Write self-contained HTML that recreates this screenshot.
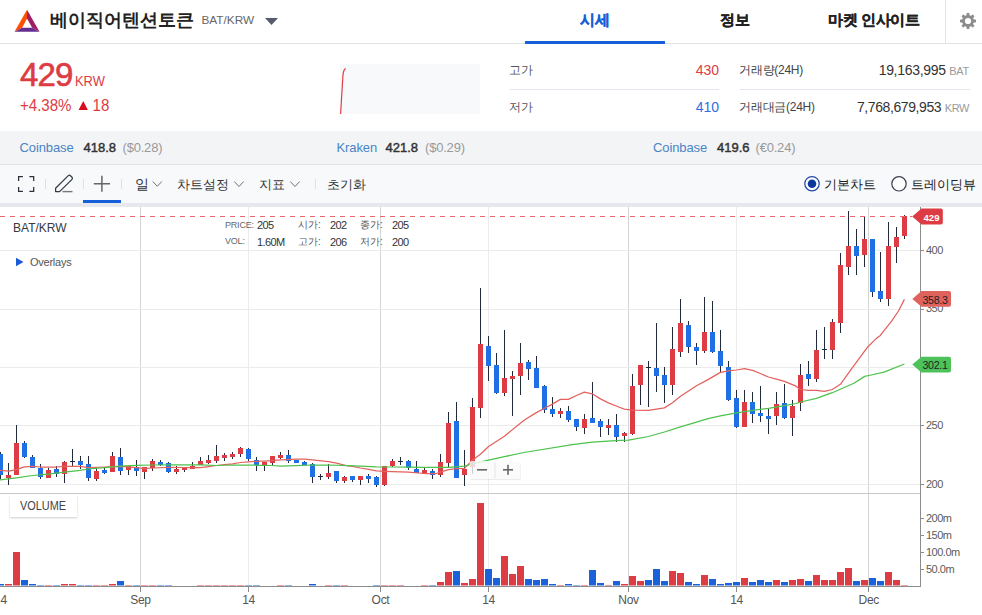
<!DOCTYPE html>
<html><head><meta charset="utf-8">
<style>
*{margin:0;padding:0;box-sizing:border-box}
html,body{width:982px;height:615px;overflow:hidden;background:#fff}
body{font-family:"Liberation Sans",sans-serif;position:relative;color:#333}
.a{position:absolute;white-space:nowrap;line-height:1}
.red{color:#dd3c44}.blue{color:#2f6ee0}
</style></head><body>
<!-- header -->
<svg class="a" style="left:0;top:0" width="982" height="44">
  <polygon points="27,9.8 14.5,31.7 22.2,27.7 27,18.6" fill="#ff5000"/>
  <polygon points="27,9.8 27,18.6 32.2,27.7 39.5,31.7" fill="#9e1f63"/>
  <polygon points="14.5,31.7 39.5,31.7 32.2,27.7 22.2,27.7" fill="#662d91"/>
  <polygon points="265,18 278,18 271.5,25" fill="#555b69"/>
  <rect x="945" y="0" width="1" height="43" fill="#e3e5ec"/>
  <rect x="0" y="43" width="982" height="1" fill="#e2e2e2"/>
  <rect x="525" y="41" width="140" height="3" fill="#1560d8"/>
  <g transform="translate(968,21)" fill="#8c8c8c">
    <circle r="6"/>
    <g><rect x="-1.4" y="-8" width="2.8" height="16" rx="0.6"/><rect x="-1.4" y="-8" width="2.8" height="16" rx="0.6" transform="rotate(45)"/><rect x="-1.4" y="-8" width="2.8" height="16" rx="0.6" transform="rotate(90)"/><rect x="-1.4" y="-8" width="2.8" height="16" rx="0.6" transform="rotate(135)"/></g>
    <circle r="3.1" fill="#fff"/>
  </g>
</svg>
<div class="a" style="left:50px;top:10.7px;font-size:18.3px;font-weight:bold;color:#222">베이직어텐션토큰</div>
<div class="a" style="left:201.5px;top:14.5px;font-size:11.8px;color:#666">BAT/KRW</div>
<div class="a" style="left:579.5px;top:12.3px;font-size:15.4px;font-weight:bold;-webkit-text-stroke:0.3px #1560d8;color:#1560d8">시세</div>
<div class="a" style="left:719.5px;top:12.3px;font-size:15.2px;font-weight:bold;-webkit-text-stroke:0.3px #222;color:#222">정보</div>
<div class="a" style="left:828px;top:12.3px;font-size:15.2px;letter-spacing:-0.4px;font-weight:bold;-webkit-text-stroke:0.3px #222;color:#222">마켓 인사이트</div>

<!-- price -->
<div class="a red" style="left:20px;top:58px;font-size:33px;letter-spacing:-0.9px;-webkit-text-stroke:0.6px #dd3c44">429</div>
<div class="a red" style="left:75.3px;top:74.2px;font-size:14px;transform:scaleX(0.92);transform-origin:0 0">KRW</div>
<div class="a red" style="left:19.5px;top:97px;font-size:16.2px;transform:scaleX(0.93);transform-origin:0 0">+4.38% <span style="display:inline-block;width:0;height:0;border-left:5.5px solid transparent;border-right:5.5px solid transparent;border-bottom:9.3px solid #dc0a1e;margin:0 5.1px 0 3.1px;vertical-align:1px"></span>18</div>
<div class="a" style="left:340px;top:64px;width:140px;height:50px;background:#f8f9fb"></div>
<svg class="a" style="left:0;top:0" width="982" height="130"><path d="M340.6,114 L342.9,76 Q343.4,69.2 345.8,68.6" fill="none" stroke="#e03c48" stroke-width="1.2"/>
<rect x="510" y="89" width="209" height="1" fill="#e3e5ef"/><rect x="740" y="89" width="230" height="1" fill="#e3e5ef"/></svg>
<div class="a" style="left:509px;top:64px;font-size:12px;color:#555">고가</div>
<div class="a red" style="left:600px;top:62.7px;width:119px;text-align:right;font-size:14px">430</div>
<div class="a" style="left:509px;top:101px;font-size:12px;color:#555">저가</div>
<div class="a blue" style="left:600px;top:99.7px;width:119px;text-align:right;font-size:14px">410</div>
<div class="a" style="left:739px;top:64px;font-size:12px;letter-spacing:-0.25px;color:#444">거래량(24H)</div>
<div class="a" style="left:800px;top:63px;width:169px;text-align:right;font-size:14px;letter-spacing:-0.3px;color:#333">19,163,995 <span style="font-size:11px;color:#9a9a9a">BAT</span></div>
<div class="a" style="left:739px;top:101px;font-size:12px;letter-spacing:-0.25px;color:#444">거래대금(24H)</div>
<div class="a" style="left:800px;top:100px;width:169px;text-align:right;font-size:14px;letter-spacing:-0.4px;color:#333">7,768,679,953 <span style="font-size:11px;color:#9a9a9a">KRW</span></div>

<!-- exchange bar -->
<div class="a" style="left:0;top:131px;width:982px;height:34px;background:#f3f4f6;border-bottom:1px solid #dfe0e4"></div>
<div class="a" style="left:19.5px;top:141px;font-size:13px;letter-spacing:-0.1px;color:#4a85c5">Coinbase</div>
<div class="a" style="left:83.5px;top:141px;font-size:13px;-webkit-text-stroke:0.45px #333;color:#333">418.8</div>
<div class="a" style="left:122.5px;top:141px;font-size:13px;letter-spacing:-0.2px;color:#999">($0.28)</div>
<div class="a" style="left:336.5px;top:141px;font-size:13px;letter-spacing:-0.1px;color:#4a85c5">Kraken</div>
<div class="a" style="left:385.5px;top:141px;font-size:13px;-webkit-text-stroke:0.45px #333;color:#333">421.8</div>
<div class="a" style="left:425px;top:141px;font-size:13px;letter-spacing:-0.2px;color:#999">($0.29)</div>
<div class="a" style="left:653px;top:141px;font-size:13px;letter-spacing:-0.1px;color:#4a85c5">Coinbase</div>
<div class="a" style="left:717px;top:141px;font-size:13px;-webkit-text-stroke:0.45px #333;color:#333">419.6</div>
<div class="a" style="left:755.5px;top:141px;font-size:13px;letter-spacing:-0.2px;color:#999">(€0.24)</div>

<!-- toolbar -->
<div class="a" style="left:0;top:165px;width:982px;height:38px;background:#f8f9fb"></div>
<div class="a" style="left:0;top:203px;width:982px;height:4px;background:#e6e8ee"></div>
<svg class="a" style="left:0;top:160px" width="982" height="47">
  <g fill="none" stroke="#2a2f3a" stroke-width="1.25">
    <path d="M18.6 21v-4.3h4.3M29.4 16.7h4.3V21M33.7 27v4.3h-4.3M22.9 31.3h-4.3V27"/>
  </g>
  <path d="M55.6,31.6 L55.6,28.2 L68.3,15.6 Q69.4,14.6 70.5,15.7 L72,17.3 Q73,18.4 72,19.4 L59.6,31.6 Z" fill="none" stroke="#353a45" stroke-width="1.25" stroke-linejoin="round"/>
  <path d="M62.5 31.6h10" stroke="#777" stroke-width="1.4"/>
  <path d="M101.9 15.8v16M93.8 23.8h16.2" stroke="#666" stroke-width="1.5" fill="none"/>
  <rect x="83" y="40" width="38" height="3" fill="#1560d8"/>
  <g fill="#dcdfe5"><rect x="45" y="19" width="1" height="10"/><rect x="83" y="19" width="1" height="10"/><rect x="121" y="19" width="1" height="10"/><rect x="315" y="19" width="1" height="10"/></g>
  <g fill="none" stroke="#707070" stroke-width="1">
    <path d="M152.8 21.5l4.5 4.8 4.5-4.8"/><path d="M234.3 21.5l4.7 5 4.7-5"/><path d="M290.3 21.5l4.7 5 4.7-5"/>
  </g>
  <circle cx="812" cy="23.7" r="7.2" fill="#fff" stroke="#2448a8" stroke-width="1.25"/>
  <circle cx="812" cy="23.7" r="4.3" fill="#0b3a9c"/>
  <circle cx="899" cy="23.8" r="7.2" fill="#fff" stroke="#3a3f4a" stroke-width="1.2"/>
</svg>
<div class="a" style="left:135px;top:178px;font-size:13.5px;color:#333">일</div>
<div class="a" style="left:177px;top:178px;font-size:13.2px;color:#333">차트설정</div>
<div class="a" style="left:259px;top:178px;font-size:13px;color:#333">지표</div>
<div class="a" style="left:327px;top:178px;font-size:13px;color:#333">초기화</div>
<div class="a" style="left:824px;top:177.5px;font-size:13px;color:#222">기본차트</div>
<div class="a" style="left:911px;top:177.5px;font-size:13px;color:#222">트레이딩뷰</div>

<!-- chart -->
<svg class="a" style="left:0;top:0" width="982" height="615" shape-rendering="crispEdges">
<line x1="140.5" y1="207" x2="140.5" y2="586" stroke="#d5d5d5" stroke-width="1"/>
<line x1="380.5" y1="207" x2="380.5" y2="586" stroke="#d5d5d5" stroke-width="1"/>
<line x1="628.5" y1="207" x2="628.5" y2="586" stroke="#d5d5d5" stroke-width="1"/>
<line x1="868.5" y1="207" x2="868.5" y2="586" stroke="#d5d5d5" stroke-width="1"/>
<line x1="248.5" y1="207" x2="248.5" y2="586" stroke="#ececec" stroke-width="1"/>
<line x1="488.5" y1="207" x2="488.5" y2="586" stroke="#ececec" stroke-width="1"/>
<line x1="736.5" y1="207" x2="736.5" y2="586" stroke="#ececec" stroke-width="1"/>
<line x1="0" y1="250.5" x2="920" y2="250.5" stroke="#ebebeb" stroke-width="1"/>
<line x1="0" y1="309.5" x2="920" y2="309.5" stroke="#ebebeb" stroke-width="1"/>
<line x1="0" y1="367.5" x2="920" y2="367.5" stroke="#ebebeb" stroke-width="1"/>
<line x1="0" y1="425.5" x2="920" y2="425.5" stroke="#ebebeb" stroke-width="1"/>
<line x1="0" y1="484.5" x2="920" y2="484.5" stroke="#ebebeb" stroke-width="1"/>
<rect x="0" y="452" width="1" height="27" fill="#202a3a"/>
<rect x="-2" y="454" width="5" height="21" fill="#1f6fe5"/>
<rect x="8" y="462.5" width="1" height="22.1" fill="#202a3a"/>
<rect x="6" y="475" width="5" height="3" fill="#dd3c44"/>
<rect x="16" y="425.4" width="1" height="49.6" fill="#202a3a"/>
<rect x="14" y="443" width="5" height="32" fill="#dd3c44"/>
<rect x="24" y="441" width="1" height="17" fill="#202a3a"/>
<rect x="22" y="443" width="5" height="14" fill="#1f6fe5"/>
<rect x="32" y="455.3" width="1" height="12.4" fill="#202a3a"/>
<rect x="30" y="457" width="5" height="10.7" fill="#1f6fe5"/>
<rect x="40" y="464" width="1" height="14.7" fill="#202a3a"/>
<rect x="38" y="467.7" width="5" height="9.1" fill="#1f6fe5"/>
<rect x="48" y="468.3" width="1" height="9.5" fill="#202a3a"/>
<rect x="46" y="470" width="5" height="7.8" fill="#dd3c44"/>
<rect x="56" y="466.4" width="1" height="10.4" fill="#202a3a"/>
<rect x="54" y="469" width="5" height="4.5" fill="#1f6fe5"/>
<rect x="64" y="461" width="1" height="22.3" fill="#202a3a"/>
<rect x="62" y="462" width="5" height="11.8" fill="#dd3c44"/>
<rect x="72" y="448.5" width="1" height="17.2" fill="#202a3a"/>
<rect x="70" y="460.7" width="5" height="1" fill="#202a3a"/>
<rect x="80" y="456.4" width="1" height="12.6" fill="#202a3a"/>
<rect x="78" y="460.8" width="5" height="4" fill="#1f6fe5"/>
<rect x="88" y="456.4" width="1" height="24.3" fill="#202a3a"/>
<rect x="86" y="463.9" width="5" height="13.9" fill="#1f6fe5"/>
<rect x="96" y="468.3" width="1" height="12.4" fill="#202a3a"/>
<rect x="94" y="470.9" width="5" height="8.1" fill="#dd3c44"/>
<rect x="104" y="467.7" width="1" height="5.8" fill="#202a3a"/>
<rect x="102" y="470" width="5" height="2.9" fill="#1f6fe5"/>
<rect x="112" y="452" width="1" height="19.8" fill="#202a3a"/>
<rect x="110" y="456" width="5" height="15.8" fill="#dd3c44"/>
<rect x="120" y="448.2" width="1" height="26.4" fill="#202a3a"/>
<rect x="118" y="456.9" width="5" height="14" fill="#1f6fe5"/>
<rect x="128" y="466.4" width="1" height="8.2" fill="#202a3a"/>
<rect x="126" y="466.4" width="5" height="3.5" fill="#dd3c44"/>
<rect x="136" y="459.9" width="1" height="16.5" fill="#202a3a"/>
<rect x="134" y="467" width="5" height="3.9" fill="#1f6fe5"/>
<rect x="144" y="467" width="1" height="11.7" fill="#202a3a"/>
<rect x="142" y="467" width="5" height="4.8" fill="#dd3c44"/>
<rect x="152" y="459.2" width="1" height="11.5" fill="#202a3a"/>
<rect x="150" y="460.8" width="5" height="7.5" fill="#dd3c44"/>
<rect x="160" y="459.9" width="1" height="6.5" fill="#202a3a"/>
<rect x="158" y="462" width="5" height="2.8" fill="#1f6fe5"/>
<rect x="168" y="461.8" width="1" height="11.1" fill="#202a3a"/>
<rect x="166" y="463.1" width="5" height="8.7" fill="#1f6fe5"/>
<rect x="176" y="466.4" width="1" height="7.1" fill="#202a3a"/>
<rect x="174" y="469" width="5" height="2.8" fill="#dd3c44"/>
<rect x="184" y="467.4" width="1" height="4.2" fill="#202a3a"/>
<rect x="182" y="467.4" width="5" height="2.2" fill="#dd3c44"/>
<rect x="192" y="462" width="1" height="6.6" fill="#202a3a"/>
<rect x="190" y="466.1" width="5" height="2.5" fill="#dd3c44"/>
<rect x="200" y="456.9" width="1" height="8.1" fill="#202a3a"/>
<rect x="198" y="461.2" width="5" height="3.5" fill="#dd3c44"/>
<rect x="208" y="455" width="1" height="9.4" fill="#202a3a"/>
<rect x="206" y="459.9" width="5" height="2.8" fill="#dd3c44"/>
<rect x="216" y="445.3" width="1" height="17.2" fill="#202a3a"/>
<rect x="214" y="456" width="5" height="4.8" fill="#dd3c44"/>
<rect x="224" y="453.4" width="1" height="7.1" fill="#202a3a"/>
<rect x="222" y="455" width="5" height="2.7" fill="#dd3c44"/>
<rect x="232" y="452" width="1" height="6.6" fill="#202a3a"/>
<rect x="230" y="453.8" width="5" height="2.8" fill="#dd3c44"/>
<rect x="240" y="446.9" width="1" height="9.7" fill="#202a3a"/>
<rect x="238" y="448.2" width="5" height="5.6" fill="#dd3c44"/>
<rect x="248" y="448.2" width="1" height="12.3" fill="#202a3a"/>
<rect x="246" y="449" width="5" height="9.8" fill="#1f6fe5"/>
<rect x="256" y="457.3" width="1" height="13.4" fill="#202a3a"/>
<rect x="254" y="459.9" width="5" height="4.9" fill="#1f6fe5"/>
<rect x="264" y="461.8" width="1" height="8.9" fill="#202a3a"/>
<rect x="262" y="461.8" width="5" height="3.2" fill="#dd3c44"/>
<rect x="272" y="456" width="1" height="10" fill="#202a3a"/>
<rect x="270" y="456" width="5" height="6.9" fill="#dd3c44"/>
<rect x="280" y="452" width="1" height="6.6" fill="#202a3a"/>
<rect x="278" y="455" width="5" height="2.9" fill="#dd3c44"/>
<rect x="288" y="450.1" width="1" height="12.4" fill="#202a3a"/>
<rect x="286" y="455" width="5" height="5.5" fill="#1f6fe5"/>
<rect x="296" y="459.9" width="1" height="3.5" fill="#202a3a"/>
<rect x="294" y="459.9" width="5" height="3" fill="#1f6fe5"/>
<rect x="304" y="460.8" width="1" height="4" fill="#202a3a"/>
<rect x="302" y="462" width="5" height="2.8" fill="#1f6fe5"/>
<rect x="312" y="463.1" width="1" height="20.2" fill="#202a3a"/>
<rect x="310" y="464" width="5" height="12.8" fill="#1f6fe5"/>
<rect x="320" y="474.2" width="1" height="5.8" fill="#202a3a"/>
<rect x="318" y="475.6" width="5" height="1" fill="#202a3a"/>
<rect x="328" y="464.2" width="1" height="14.5" fill="#202a3a"/>
<rect x="326" y="473.1" width="5" height="3.7" fill="#dd3c44"/>
<rect x="336" y="470.9" width="1" height="12.4" fill="#202a3a"/>
<rect x="334" y="470.9" width="5" height="9.8" fill="#1f6fe5"/>
<rect x="344" y="475.9" width="1" height="7.4" fill="#202a3a"/>
<rect x="342" y="477" width="5" height="3.7" fill="#dd3c44"/>
<rect x="352" y="476.1" width="1" height="5.5" fill="#202a3a"/>
<rect x="350" y="476.1" width="5" height="3.5" fill="#1f6fe5"/>
<rect x="360" y="476.1" width="1" height="9.1" fill="#202a3a"/>
<rect x="358" y="476.1" width="5" height="3.5" fill="#dd3c44"/>
<rect x="368" y="474.2" width="1" height="9.1" fill="#202a3a"/>
<rect x="366" y="475.9" width="5" height="2.8" fill="#1f6fe5"/>
<rect x="376" y="476.1" width="1" height="11.1" fill="#202a3a"/>
<rect x="374" y="477" width="5" height="7.8" fill="#1f6fe5"/>
<rect x="384" y="466.4" width="1" height="19.5" fill="#202a3a"/>
<rect x="382" y="466.4" width="5" height="18.4" fill="#dd3c44"/>
<rect x="392" y="459.2" width="1" height="7.8" fill="#202a3a"/>
<rect x="390" y="461.2" width="5" height="4.8" fill="#dd3c44"/>
<rect x="400" y="457.3" width="1" height="7.7" fill="#202a3a"/>
<rect x="398" y="460.9" width="5" height="1" fill="#202a3a"/>
<rect x="408" y="459.9" width="1" height="9.7" fill="#202a3a"/>
<rect x="406" y="460.8" width="5" height="6.9" fill="#1f6fe5"/>
<rect x="416" y="461.2" width="1" height="11.7" fill="#202a3a"/>
<rect x="414" y="469" width="5" height="3.9" fill="#1f6fe5"/>
<rect x="424" y="467.7" width="1" height="5.8" fill="#202a3a"/>
<rect x="422" y="470.3" width="5" height="3.2" fill="#dd3c44"/>
<rect x="432" y="469.4" width="1" height="9.1" fill="#202a3a"/>
<rect x="430" y="470.9" width="5" height="3.9" fill="#1f6fe5"/>
<rect x="440" y="454.2" width="1" height="23" fill="#202a3a"/>
<rect x="438" y="462.2" width="5" height="12.5" fill="#dd3c44"/>
<rect x="448" y="411.5" width="1" height="55.5" fill="#202a3a"/>
<rect x="446" y="422.9" width="5" height="39.8" fill="#dd3c44"/>
<rect x="456" y="402" width="1" height="75.8" fill="#202a3a"/>
<rect x="454" y="420.9" width="5" height="56.9" fill="#1f6fe5"/>
<rect x="464" y="449.9" width="1" height="35.9" fill="#202a3a"/>
<rect x="462" y="468.7" width="5" height="6" fill="#dd3c44"/>
<rect x="472" y="398.3" width="1" height="75.7" fill="#202a3a"/>
<rect x="470" y="406.9" width="5" height="60.1" fill="#dd3c44"/>
<rect x="480" y="287.5" width="1" height="130" fill="#202a3a"/>
<rect x="478" y="343.8" width="5" height="63.7" fill="#dd3c44"/>
<rect x="488" y="335.5" width="1" height="45.9" fill="#202a3a"/>
<rect x="486" y="345.9" width="5" height="20.1" fill="#1f6fe5"/>
<rect x="496" y="353.3" width="1" height="40.5" fill="#202a3a"/>
<rect x="494" y="364.9" width="5" height="28.1" fill="#1f6fe5"/>
<rect x="504" y="329.6" width="1" height="66.8" fill="#202a3a"/>
<rect x="502" y="378" width="5" height="15" fill="#dd3c44"/>
<rect x="512" y="371.4" width="1" height="44.8" fill="#202a3a"/>
<rect x="510" y="376" width="5" height="2.8" fill="#dd3c44"/>
<rect x="520" y="342.5" width="1" height="52.1" fill="#202a3a"/>
<rect x="518" y="362.9" width="5" height="12.8" fill="#dd3c44"/>
<rect x="528" y="360.2" width="1" height="20.1" fill="#202a3a"/>
<rect x="526" y="362.1" width="5" height="6.6" fill="#1f6fe5"/>
<rect x="536" y="356.4" width="1" height="32" fill="#202a3a"/>
<rect x="534" y="368" width="5" height="20" fill="#1f6fe5"/>
<rect x="544" y="385.3" width="1" height="28.1" fill="#202a3a"/>
<rect x="542" y="386" width="5" height="23.7" fill="#1f6fe5"/>
<rect x="552" y="397.2" width="1" height="19.3" fill="#202a3a"/>
<rect x="550" y="409.2" width="5" height="4.6" fill="#1f6fe5"/>
<rect x="560" y="407.5" width="1" height="10.2" fill="#202a3a"/>
<rect x="558" y="411.2" width="5" height="2.6" fill="#dd3c44"/>
<rect x="568" y="406.3" width="1" height="15.4" fill="#202a3a"/>
<rect x="566" y="410.9" width="5" height="8.9" fill="#1f6fe5"/>
<rect x="576" y="419.1" width="1" height="11.4" fill="#202a3a"/>
<rect x="574" y="419.1" width="5" height="7.5" fill="#1f6fe5"/>
<rect x="584" y="413.5" width="1" height="20.8" fill="#202a3a"/>
<rect x="582" y="419.1" width="5" height="8.9" fill="#dd3c44"/>
<rect x="592" y="382.4" width="1" height="40.4" fill="#202a3a"/>
<rect x="590" y="418.2" width="5" height="4.6" fill="#1f6fe5"/>
<rect x="600" y="419.4" width="1" height="17.1" fill="#202a3a"/>
<rect x="598" y="421.1" width="5" height="5.5" fill="#1f6fe5"/>
<rect x="608" y="419.4" width="1" height="15.9" fill="#202a3a"/>
<rect x="606" y="425" width="5" height="3" fill="#dd3c44"/>
<rect x="616" y="413.5" width="1" height="28.9" fill="#202a3a"/>
<rect x="614" y="425" width="5" height="11.5" fill="#1f6fe5"/>
<rect x="624" y="432" width="1" height="10.4" fill="#202a3a"/>
<rect x="622" y="432.9" width="5" height="3" fill="#dd3c44"/>
<rect x="632" y="374.1" width="1" height="60.5" fill="#202a3a"/>
<rect x="630" y="385.8" width="5" height="48.1" fill="#dd3c44"/>
<rect x="640" y="364.8" width="1" height="40.5" fill="#202a3a"/>
<rect x="638" y="364.8" width="5" height="20" fill="#dd3c44"/>
<rect x="648" y="361" width="1" height="45.6" fill="#202a3a"/>
<rect x="646" y="366.9" width="5" height="1" fill="#202a3a"/>
<rect x="656" y="323.3" width="1" height="68.4" fill="#202a3a"/>
<rect x="654" y="367.9" width="5" height="7.8" fill="#1f6fe5"/>
<rect x="664" y="367.2" width="1" height="35.5" fill="#202a3a"/>
<rect x="662" y="375" width="5" height="9.8" fill="#1f6fe5"/>
<rect x="672" y="327.1" width="1" height="67.6" fill="#202a3a"/>
<rect x="670" y="348.8" width="5" height="36" fill="#dd3c44"/>
<rect x="680" y="299.2" width="1" height="57.3" fill="#202a3a"/>
<rect x="678" y="323" width="5" height="28.7" fill="#dd3c44"/>
<rect x="688" y="321.2" width="1" height="32.2" fill="#202a3a"/>
<rect x="686" y="325" width="5" height="21.7" fill="#1f6fe5"/>
<rect x="696" y="343.3" width="1" height="22.1" fill="#202a3a"/>
<rect x="694" y="347.2" width="5" height="3.4" fill="#1f6fe5"/>
<rect x="704" y="297.4" width="1" height="56" fill="#202a3a"/>
<rect x="702" y="332" width="5" height="18.6" fill="#dd3c44"/>
<rect x="712" y="301.3" width="1" height="52.1" fill="#202a3a"/>
<rect x="710" y="332" width="5" height="19.7" fill="#1f6fe5"/>
<rect x="720" y="330.3" width="1" height="42.1" fill="#202a3a"/>
<rect x="718" y="351" width="5" height="14.6" fill="#1f6fe5"/>
<rect x="728" y="361.2" width="1" height="40.2" fill="#202a3a"/>
<rect x="726" y="367.2" width="5" height="32.6" fill="#1f6fe5"/>
<rect x="736" y="390.1" width="1" height="37.6" fill="#202a3a"/>
<rect x="734" y="398" width="5" height="28.7" fill="#1f6fe5"/>
<rect x="744" y="390.1" width="1" height="36.6" fill="#202a3a"/>
<rect x="742" y="401.9" width="5" height="24.8" fill="#dd3c44"/>
<rect x="752" y="392.2" width="1" height="30.6" fill="#202a3a"/>
<rect x="750" y="401.9" width="5" height="11.7" fill="#1f6fe5"/>
<rect x="760" y="386" width="1" height="36.4" fill="#202a3a"/>
<rect x="758" y="412.9" width="5" height="2.8" fill="#1f6fe5"/>
<rect x="768" y="409" width="1" height="24.5" fill="#202a3a"/>
<rect x="766" y="415.9" width="5" height="2.8" fill="#1f6fe5"/>
<rect x="776" y="392.2" width="1" height="32.3" fill="#202a3a"/>
<rect x="774" y="403.9" width="5" height="12" fill="#dd3c44"/>
<rect x="784" y="383.5" width="1" height="35.9" fill="#202a3a"/>
<rect x="782" y="403.1" width="5" height="14.6" fill="#1f6fe5"/>
<rect x="792" y="400.2" width="1" height="35.3" fill="#202a3a"/>
<rect x="790" y="405.8" width="5" height="12.2" fill="#dd3c44"/>
<rect x="800" y="364.2" width="1" height="46.6" fill="#202a3a"/>
<rect x="798" y="374.9" width="5" height="28.5" fill="#dd3c44"/>
<rect x="808" y="361.4" width="1" height="24.4" fill="#202a3a"/>
<rect x="806" y="374.3" width="5" height="4.4" fill="#1f6fe5"/>
<rect x="816" y="330.3" width="1" height="51.2" fill="#202a3a"/>
<rect x="814" y="350" width="5" height="29" fill="#dd3c44"/>
<rect x="824" y="326.9" width="1" height="32.1" fill="#202a3a"/>
<rect x="822" y="348.8" width="5" height="1" fill="#202a3a"/>
<rect x="832" y="319.1" width="1" height="39.9" fill="#202a3a"/>
<rect x="830" y="322" width="5" height="27.6" fill="#dd3c44"/>
<rect x="840" y="253.4" width="1" height="80" fill="#202a3a"/>
<rect x="838" y="265" width="5" height="57.9" fill="#dd3c44"/>
<rect x="848" y="211.3" width="1" height="63.2" fill="#202a3a"/>
<rect x="846" y="246" width="5" height="20.8" fill="#dd3c44"/>
<rect x="856" y="229.2" width="1" height="45.3" fill="#202a3a"/>
<rect x="854" y="246" width="5" height="9.9" fill="#1f6fe5"/>
<rect x="864" y="216.4" width="1" height="50.9" fill="#202a3a"/>
<rect x="862" y="238.9" width="5" height="15.8" fill="#dd3c44"/>
<rect x="872" y="238.9" width="1" height="57.8" fill="#202a3a"/>
<rect x="870" y="238.9" width="5" height="52.7" fill="#1f6fe5"/>
<rect x="880" y="252.2" width="1" height="49.4" fill="#202a3a"/>
<rect x="878" y="291" width="5" height="7.8" fill="#1f6fe5"/>
<rect x="888" y="222.3" width="1" height="83.3" fill="#202a3a"/>
<rect x="886" y="246" width="5" height="52.8" fill="#dd3c44"/>
<rect x="896" y="227.2" width="1" height="35.5" fill="#202a3a"/>
<rect x="894" y="237.1" width="5" height="9.7" fill="#dd3c44"/>
<rect x="904" y="215" width="1" height="23.6" fill="#202a3a"/>
<rect x="902" y="216" width="5" height="19.7" fill="#dd3c44"/>
<rect x="-3" y="584" width="7" height="1" fill="#1b62da"/>
<rect x="-3" y="585" width="7" height="1" fill="#8fb3ee"/>
<rect x="5" y="583.8" width="7" height="1.2" fill="#dd3c44"/>
<rect x="5" y="585" width="7" height="1" fill="#f0a0a5"/>
<rect x="13" y="551.9" width="7" height="33.1" fill="#dd3c44"/>
<rect x="13" y="585" width="7" height="1" fill="#f0a0a5"/>
<rect x="21" y="580" width="7" height="5" fill="#1b62da"/>
<rect x="21" y="585" width="7" height="1" fill="#8fb3ee"/>
<rect x="29" y="584" width="7" height="1" fill="#1b62da"/>
<rect x="29" y="585" width="7" height="1" fill="#8fb3ee"/>
<rect x="37" y="585" width="7" height="1" fill="#8fb5f0"/>
<rect x="45" y="585" width="7" height="1" fill="#f0a0a5"/>
<rect x="53" y="585" width="7" height="1" fill="#8fb5f0"/>
<rect x="61" y="584" width="7" height="1" fill="#dd3c44"/>
<rect x="61" y="585" width="7" height="1" fill="#f0a0a5"/>
<rect x="69" y="584" width="7" height="1" fill="#dd3c44"/>
<rect x="69" y="585" width="7" height="1" fill="#f0a0a5"/>
<rect x="77" y="585" width="7" height="1" fill="#8fb5f0"/>
<rect x="85" y="585" width="7" height="1" fill="#8fb5f0"/>
<rect x="93" y="585" width="7" height="1" fill="#f0a0a5"/>
<rect x="101" y="585" width="7" height="1" fill="#f0a0a5"/>
<rect x="109" y="584" width="7" height="1" fill="#dd3c44"/>
<rect x="109" y="585" width="7" height="1" fill="#f0a0a5"/>
<rect x="117" y="581" width="7" height="4" fill="#1b62da"/>
<rect x="117" y="585" width="7" height="1" fill="#8fb3ee"/>
<rect x="125" y="585" width="7" height="1" fill="#f0a0a5"/>
<rect x="133" y="585" width="7" height="1" fill="#8fb5f0"/>
<rect x="141" y="585" width="7" height="1" fill="#f0a0a5"/>
<rect x="149" y="585" width="7" height="1" fill="#f0a0a5"/>
<rect x="157" y="585" width="7" height="1" fill="#8fb5f0"/>
<rect x="165" y="585" width="7" height="1" fill="#8fb5f0"/>
<rect x="197" y="585" width="7" height="1" fill="#f0a0a5"/>
<rect x="205" y="585" width="7" height="1" fill="#f0a0a5"/>
<rect x="213" y="585" width="7" height="1" fill="#f0a0a5"/>
<rect x="221" y="585" width="7" height="1" fill="#f0a0a5"/>
<rect x="229" y="585" width="7" height="1" fill="#f0a0a5"/>
<rect x="237" y="585" width="7" height="1" fill="#f0a0a5"/>
<rect x="245" y="585" width="7" height="1" fill="#8fb5f0"/>
<rect x="253" y="585" width="7" height="1" fill="#8fb5f0"/>
<rect x="277" y="585" width="7" height="1" fill="#f0a0a5"/>
<rect x="285" y="585" width="7" height="1" fill="#8fb5f0"/>
<rect x="309" y="584" width="7" height="1" fill="#1b62da"/>
<rect x="309" y="585" width="7" height="1" fill="#8fb3ee"/>
<rect x="325" y="585" width="7" height="1" fill="#f0a0a5"/>
<rect x="333" y="585" width="7" height="1" fill="#8fb5f0"/>
<rect x="341" y="585" width="7" height="1" fill="#f0a0a5"/>
<rect x="373" y="585" width="7" height="1" fill="#8fb5f0"/>
<rect x="381" y="585" width="7" height="1" fill="#f0a0a5"/>
<rect x="389" y="585" width="7" height="1" fill="#f0a0a5"/>
<rect x="397" y="585" width="7" height="1" fill="#f0a0a5"/>
<rect x="421" y="585" width="7" height="1" fill="#f0a0a5"/>
<rect x="429" y="585" width="7" height="1" fill="#8fb5f0"/>
<rect x="437" y="582" width="7" height="3" fill="#dd3c44"/>
<rect x="437" y="585" width="7" height="1" fill="#f0a0a5"/>
<rect x="445" y="571.9" width="7" height="13.1" fill="#dd3c44"/>
<rect x="445" y="585" width="7" height="1" fill="#f0a0a5"/>
<rect x="453" y="571" width="7" height="14" fill="#1b62da"/>
<rect x="453" y="585" width="7" height="1" fill="#8fb3ee"/>
<rect x="461" y="583" width="7" height="2" fill="#dd3c44"/>
<rect x="461" y="585" width="7" height="1" fill="#f0a0a5"/>
<rect x="469" y="578.9" width="7" height="6.1" fill="#dd3c44"/>
<rect x="469" y="585" width="7" height="1" fill="#f0a0a5"/>
<rect x="477" y="502.9" width="7" height="82.1" fill="#dd3c44"/>
<rect x="477" y="585" width="7" height="1" fill="#f0a0a5"/>
<rect x="485" y="568.8" width="7" height="16.2" fill="#1b62da"/>
<rect x="485" y="585" width="7" height="1" fill="#8fb3ee"/>
<rect x="493" y="577.8" width="7" height="7.2" fill="#1b62da"/>
<rect x="493" y="585" width="7" height="1" fill="#8fb3ee"/>
<rect x="501" y="555.9" width="7" height="29.1" fill="#dd3c44"/>
<rect x="501" y="585" width="7" height="1" fill="#f0a0a5"/>
<rect x="509" y="573.9" width="7" height="11.1" fill="#dd3c44"/>
<rect x="509" y="585" width="7" height="1" fill="#f0a0a5"/>
<rect x="517" y="566" width="7" height="19" fill="#dd3c44"/>
<rect x="517" y="585" width="7" height="1" fill="#f0a0a5"/>
<rect x="525" y="578.9" width="7" height="6.1" fill="#1b62da"/>
<rect x="525" y="585" width="7" height="1" fill="#8fb3ee"/>
<rect x="533" y="579.9" width="7" height="5.1" fill="#1b62da"/>
<rect x="533" y="585" width="7" height="1" fill="#8fb3ee"/>
<rect x="541" y="578.9" width="7" height="6.1" fill="#1b62da"/>
<rect x="541" y="585" width="7" height="1" fill="#8fb3ee"/>
<rect x="549" y="583.8" width="7" height="1.2" fill="#1b62da"/>
<rect x="549" y="585" width="7" height="1" fill="#8fb3ee"/>
<rect x="557" y="585" width="7" height="1" fill="#f0a0a5"/>
<rect x="565" y="583.8" width="7" height="1.2" fill="#1b62da"/>
<rect x="565" y="585" width="7" height="1" fill="#8fb3ee"/>
<rect x="573" y="585" width="7" height="1" fill="#8fb5f0"/>
<rect x="581" y="585" width="7" height="1" fill="#f0a0a5"/>
<rect x="589" y="570" width="7" height="15" fill="#1b62da"/>
<rect x="589" y="585" width="7" height="1" fill="#8fb3ee"/>
<rect x="597" y="583" width="7" height="2" fill="#1b62da"/>
<rect x="597" y="585" width="7" height="1" fill="#8fb3ee"/>
<rect x="605" y="585" width="7" height="1" fill="#f0a0a5"/>
<rect x="613" y="581" width="7" height="4" fill="#1b62da"/>
<rect x="613" y="585" width="7" height="1" fill="#8fb3ee"/>
<rect x="621" y="583.8" width="7" height="1.2" fill="#dd3c44"/>
<rect x="621" y="585" width="7" height="1" fill="#f0a0a5"/>
<rect x="629" y="576" width="7" height="9" fill="#dd3c44"/>
<rect x="629" y="585" width="7" height="1" fill="#f0a0a5"/>
<rect x="637" y="581.2" width="7" height="3.8" fill="#dd3c44"/>
<rect x="637" y="585" width="7" height="1" fill="#f0a0a5"/>
<rect x="645" y="580" width="7" height="5" fill="#1b62da"/>
<rect x="645" y="585" width="7" height="1" fill="#8fb3ee"/>
<rect x="653" y="569" width="7" height="16" fill="#1b62da"/>
<rect x="653" y="585" width="7" height="1" fill="#8fb3ee"/>
<rect x="661" y="581" width="7" height="4" fill="#1b62da"/>
<rect x="661" y="585" width="7" height="1" fill="#8fb3ee"/>
<rect x="669" y="571" width="7" height="14" fill="#dd3c44"/>
<rect x="669" y="585" width="7" height="1" fill="#f0a0a5"/>
<rect x="677" y="573" width="7" height="12" fill="#dd3c44"/>
<rect x="677" y="585" width="7" height="1" fill="#f0a0a5"/>
<rect x="685" y="582" width="7" height="3" fill="#1b62da"/>
<rect x="685" y="585" width="7" height="1" fill="#8fb3ee"/>
<rect x="693" y="584" width="7" height="1" fill="#1b62da"/>
<rect x="693" y="585" width="7" height="1" fill="#8fb3ee"/>
<rect x="701" y="575.1" width="7" height="9.9" fill="#dd3c44"/>
<rect x="701" y="585" width="7" height="1" fill="#f0a0a5"/>
<rect x="709" y="579.1" width="7" height="5.9" fill="#1b62da"/>
<rect x="709" y="585" width="7" height="1" fill="#8fb3ee"/>
<rect x="717" y="584" width="7" height="1" fill="#1b62da"/>
<rect x="717" y="585" width="7" height="1" fill="#8fb3ee"/>
<rect x="725" y="583" width="7" height="2" fill="#1b62da"/>
<rect x="725" y="585" width="7" height="1" fill="#8fb3ee"/>
<rect x="733" y="582" width="7" height="3" fill="#1b62da"/>
<rect x="733" y="585" width="7" height="1" fill="#8fb3ee"/>
<rect x="741" y="578.1" width="7" height="6.9" fill="#dd3c44"/>
<rect x="741" y="585" width="7" height="1" fill="#f0a0a5"/>
<rect x="749" y="582" width="7" height="3" fill="#1b62da"/>
<rect x="749" y="585" width="7" height="1" fill="#8fb3ee"/>
<rect x="757" y="580" width="7" height="5" fill="#1b62da"/>
<rect x="757" y="585" width="7" height="1" fill="#8fb3ee"/>
<rect x="765" y="582" width="7" height="3" fill="#1b62da"/>
<rect x="765" y="585" width="7" height="1" fill="#8fb3ee"/>
<rect x="773" y="580" width="7" height="5" fill="#dd3c44"/>
<rect x="773" y="585" width="7" height="1" fill="#f0a0a5"/>
<rect x="781" y="582" width="7" height="3" fill="#1b62da"/>
<rect x="781" y="585" width="7" height="1" fill="#8fb3ee"/>
<rect x="789" y="580" width="7" height="5" fill="#dd3c44"/>
<rect x="789" y="585" width="7" height="1" fill="#f0a0a5"/>
<rect x="797" y="579.1" width="7" height="5.9" fill="#dd3c44"/>
<rect x="797" y="585" width="7" height="1" fill="#f0a0a5"/>
<rect x="805" y="581" width="7" height="4" fill="#1b62da"/>
<rect x="805" y="585" width="7" height="1" fill="#8fb3ee"/>
<rect x="813" y="575.1" width="7" height="9.9" fill="#dd3c44"/>
<rect x="813" y="585" width="7" height="1" fill="#f0a0a5"/>
<rect x="821" y="580" width="7" height="5" fill="#dd3c44"/>
<rect x="821" y="585" width="7" height="1" fill="#f0a0a5"/>
<rect x="829" y="580" width="7" height="5" fill="#dd3c44"/>
<rect x="829" y="585" width="7" height="1" fill="#f0a0a5"/>
<rect x="837" y="572" width="7" height="13" fill="#dd3c44"/>
<rect x="837" y="585" width="7" height="1" fill="#f0a0a5"/>
<rect x="845" y="568.1" width="7" height="16.9" fill="#dd3c44"/>
<rect x="845" y="585" width="7" height="1" fill="#f0a0a5"/>
<rect x="853" y="581" width="7" height="4" fill="#1b62da"/>
<rect x="853" y="585" width="7" height="1" fill="#8fb3ee"/>
<rect x="861" y="580" width="7" height="5" fill="#dd3c44"/>
<rect x="861" y="585" width="7" height="1" fill="#f0a0a5"/>
<rect x="869" y="578.1" width="7" height="6.9" fill="#1b62da"/>
<rect x="869" y="585" width="7" height="1" fill="#8fb3ee"/>
<rect x="877" y="581" width="7" height="4" fill="#1b62da"/>
<rect x="877" y="585" width="7" height="1" fill="#8fb3ee"/>
<rect x="885" y="572" width="7" height="13" fill="#dd3c44"/>
<rect x="885" y="585" width="7" height="1" fill="#f0a0a5"/>
<rect x="893" y="580" width="7" height="5" fill="#dd3c44"/>
<rect x="893" y="585" width="7" height="1" fill="#f0a0a5"/>
<rect x="901" y="585" width="7" height="1" fill="#f0a0a5"/>
</svg>
<svg class="a" style="left:0;top:0" width="982" height="615">
<polyline points="0,470.3 8.5,471.2 16.5,469.6 24.4,466.8 32.5,466.4 40.4,467 56.4,467 64.4,466.4 80,466.4 88.5,467.7 104.5,467 120.5,466.4 136.5,467.7 144.5,468.6 152.5,468 168.5,467.3 184,467.5 192.5,467.7 200.4,467.6 208.5,466.6 216.4,465.5 224.5,464.7 232.5,463.8 240.5,462.5 248.5,461.8 260,461.2 264.5,461.2 280.5,459.9 296.5,459.2 304.4,459.2 312.5,459.9 328.5,461.6 336.5,463.1 348,466 352.5,466.4 360.4,468 368.5,469.4 376.4,470.9 384.5,471.3 392.4,471.6 408.5,472.2 424.5,473.5 436,473.5 440.3,472.1 448.5,469.6 456.5,468.7 464.4,468.4 472.4,460.2 480.4,454.2 488.6,446.5 504.4,436.2 524,420.3 536.3,412.6 544.5,408.3 552.5,404.1 560.4,399.4 568.4,399.4 576.4,395.5 584.3,392.1 592.3,393.8 600.4,398.9 608.4,402.9 620,407.5 624.5,409.2 632.4,410.1 648.4,410.3 664.4,407.9 672.5,402.7 680.5,396.2 696.5,385.8 708,379.6 720.4,372.4 728.5,370.8 736.5,370 744.5,368.6 752.5,370.4 760.4,373.5 768.4,377 776.4,379.1 784.5,381.4 796,386.2 800.5,389.5 808.6,390.3 816.4,390.4 824.5,391.4 832.3,389.5 840.4,384.3 852.6,367.4 867,347.8 875.1,339.6 880.3,335.4 891.6,321.2 898.5,311 904.4,299.4" fill="none" stroke="#e2625e" stroke-width="1.25" stroke-linejoin="round"/>
<polyline points="0,480 16.5,477.8 32.5,475.5 48.5,474.2 64.4,472.2 80,470.3 88.5,469 104.5,467.7 120.5,466.1 136.5,465.3 152.5,465 172,464.8 200.4,464.8 216.4,465.5 232.5,465 248.5,465 260,465.3 272.4,465.5 280.5,466.1 296.5,465.7 312.5,465 328.5,465 348,465.7 360.4,466.1 376.4,466.8 392.4,467 408.5,467 424.5,467.3 436,467.4 448.5,467.3 464.4,466.1 472.4,463.9 488.6,460.2 504.4,456.7 524,452.5 572.3,444.7 592.3,442.2 620,440.4 628.6,440.1 648.4,436.5 664.4,432 680.5,426.8 696.5,422.2 708,418.7 720.4,415.9 736.5,412.9 752.5,410.4 768.4,408.3 784.5,405.6 796,403.5 800.5,402 816.4,398.3 832.3,392.7 853.9,383.3 864.7,376.4 868.8,375.5 884,372.1 904.4,364" fill="none" stroke="#4cc24c" stroke-width="1.25" stroke-linejoin="round"/>
  <line x1="0" y1="216.5" x2="912" y2="216.5" stroke="#e8666c" stroke-width="1" stroke-dasharray="5,5"/>
  <rect x="920" y="207" width="1" height="380" fill="#8c8c8c"/>
  <rect x="0" y="493" width="920" height="1" fill="#c8c8c8"/>
  <rect x="0" y="586" width="921" height="1" fill="#8c8c8c"/>
  <g fill="#8c8c8c">
    <rect x="921" y="250" width="3" height="1"/><rect x="921" y="309" width="3" height="1"/><rect x="921" y="367" width="3" height="1"/><rect x="921" y="425" width="3" height="1"/><rect x="921" y="484" width="3" height="1"/>
    <rect x="921" y="518" width="3" height="1"/><rect x="921" y="535" width="3" height="1"/><rect x="921" y="552" width="3" height="1"/><rect x="921" y="569" width="3" height="1"/>
    <rect x="140" y="587" width="1" height="5"/><rect x="248" y="587" width="1" height="5"/><rect x="380" y="587" width="1" height="5"/><rect x="488" y="587" width="1" height="5"/><rect x="628" y="587" width="1" height="5"/><rect x="736" y="587" width="1" height="5"/><rect x="868" y="587" width="1" height="5"/>
  </g>
  <!-- zoom control -->
  <rect x="470" y="462.5" width="51" height="17.5" rx="2.5" fill="#000" fill-opacity="0.08"/>
  <rect x="469.5" y="461" width="51" height="18" rx="2.5" fill="#fff" fill-opacity="0.78"/>
  <rect x="494.5" y="463" width="1" height="15" fill="#e6e6e6"/>
  <rect x="477" y="469" width="10" height="1.6" fill="#666"/>
  <rect x="503" y="469" width="10" height="1.6" fill="#666"/><rect x="507.2" y="464.8" width="1.6" height="10" fill="#666"/>
  <polygon points="16,257.8 23.5,262 16,266.3" fill="#1a5ad8"/>
</svg>
<div class="a" style="left:926px;top:245px;font-size:11px;letter-spacing:-0.5px;color:#5c5c5c">400</div>
<div class="a" style="left:926px;top:303px;font-size:11px;letter-spacing:-0.5px;color:#5c5c5c">350</div>
<div class="a" style="left:926px;top:420px;font-size:11px;letter-spacing:-0.5px;color:#5c5c5c">250</div>
<div class="a" style="left:926px;top:479px;font-size:11px;letter-spacing:-0.5px;color:#5c5c5c">200</div>
<div class="a" style="left:926px;top:513px;font-size:11px;letter-spacing:-0.5px;color:#5c5c5c">200m</div>
<div class="a" style="left:926px;top:530px;font-size:11px;letter-spacing:-0.5px;color:#5c5c5c">150m</div>
<div class="a" style="left:926px;top:547px;font-size:11px;letter-spacing:-0.5px;color:#5c5c5c">100.0m</div>
<div class="a" style="left:926px;top:564px;font-size:11px;letter-spacing:-0.5px;color:#5c5c5c">50.0m</div>
<svg class="a" style="left:0;top:0" width="982" height="615">
  <!-- tags -->
  <path d="M912.2 216.5L921.5 208.4H940.8Q942.8 208.4 942.8 210.4V222.5Q942.8 224.5 940.8 224.5H921.5Z" fill="#dd3c44"/>
  <path d="M912.3 299L921.5 291.1H949Q951 291.1 951 293.1V304.7Q951 306.7 949 306.7H921.5Z" fill="#e0625c"/>
  <path d="M912.3 364.6L921.5 356.7H949Q951 356.7 951 358.7V370.6Q951 372.6 949 372.6H921.5Z" fill="#4ec25a"/>
</svg>
<div class="a" style="left:920px;top:213px;width:23px;text-align:center;font-size:9.6px;font-weight:bold;color:#fff">429</div>
<div class="a" style="left:922.5px;top:294.5px;font-size:10.6px;letter-spacing:-0.3px;color:#222">358.3</div>
<div class="a" style="left:922.5px;top:360px;font-size:10.6px;letter-spacing:-0.3px;color:#222">302.1</div>
<div class="a" style="left:13px;top:221px;font-size:13px;transform:scaleX(0.925);transform-origin:0 0;color:#3a3a3a">BAT/KRW</div>
<div class="a" style="left:30px;top:257px;font-size:11px;letter-spacing:-0.25px;color:#555">Overlays</div>
<div class="a" style="left:225px;top:221px;font-size:9px;letter-spacing:-0.2px;color:#666">PRICE:</div>
<div class="a" style="left:257px;top:220px;font-size:11px;letter-spacing:-0.6px;color:#333">205</div>
<div class="a" style="left:298px;top:220px;font-size:10px;color:#555">시가:</div>
<div class="a" style="left:330px;top:220px;font-size:11px;letter-spacing:-0.6px;color:#333">202</div>
<div class="a" style="left:360px;top:220px;font-size:10px;color:#555">종가:</div>
<div class="a" style="left:392px;top:220px;font-size:11px;letter-spacing:-0.6px;color:#333">205</div>
<div class="a" style="left:225px;top:237px;font-size:9px;letter-spacing:-0.2px;color:#666">VOL:</div>
<div class="a" style="left:257px;top:237px;font-size:11px;letter-spacing:-0.6px;color:#333">1.60M</div>
<div class="a" style="left:298px;top:237px;font-size:10px;color:#555">고가:</div>
<div class="a" style="left:330px;top:237px;font-size:11px;letter-spacing:-0.6px;color:#333">206</div>
<div class="a" style="left:360px;top:237px;font-size:10px;color:#555">저가:</div>
<div class="a" style="left:392px;top:237px;font-size:11px;letter-spacing:-0.6px;color:#333">200</div>
<div class="a" style="left:10px;top:495px;width:67px;height:22px;background:#fff;box-shadow:0 1px 2px rgba(0,0,0,.2)"></div>
<div class="a" style="left:20px;top:500px;font-size:12px;transform:scaleX(0.91);transform-origin:0 0;color:#444">VOLUME</div>
<div class="a" style="left:0.5px;top:594px;font-size:12px;color:#555">4</div>
<div class="a" style="left:110.5px;top:594px;width:60px;text-align:center;font-size:12px;letter-spacing:-0.3px;color:#555">Sep</div>
<div class="a" style="left:218.5px;top:594px;width:60px;text-align:center;font-size:12px;letter-spacing:-0.3px;color:#555">14</div>
<div class="a" style="left:350.5px;top:594px;width:60px;text-align:center;font-size:12px;letter-spacing:-0.3px;color:#555">Oct</div>
<div class="a" style="left:458.5px;top:594px;width:60px;text-align:center;font-size:12px;letter-spacing:-0.3px;color:#555">14</div>
<div class="a" style="left:598.5px;top:594px;width:60px;text-align:center;font-size:12px;letter-spacing:-0.3px;color:#555">Nov</div>
<div class="a" style="left:706.5px;top:594px;width:60px;text-align:center;font-size:12px;letter-spacing:-0.3px;color:#555">14</div>
<div class="a" style="left:838.8px;top:594px;width:60px;text-align:center;font-size:12px;letter-spacing:-0.3px;color:#555">Dec</div>
</body></html>
